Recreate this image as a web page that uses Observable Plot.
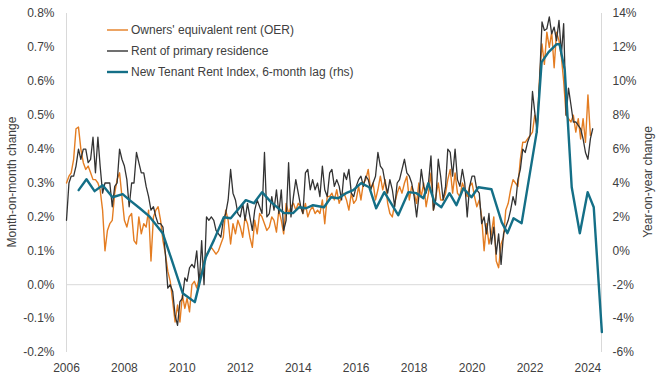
<!DOCTYPE html>
<html><head><meta charset="utf-8">
<script src="https://cdn.jsdelivr.net/npm/d3@7"></script>
<script src="https://cdn.jsdelivr.net/npm/@observablehq/plot@0.6"></script>
<style>
body{margin:0;background:#fff;font-family:"Liberation Sans",Arial,sans-serif;}
#wrap{position:relative;width:660px;height:379px;overflow:hidden;}
.ytitle{position:absolute;font-size:12px;color:#404040;white-space:nowrap;transform:translate(-50%,-50%) rotate(-90deg);}
#legend{position:absolute;left:107px;top:19px;font-size:12px;color:#404040;}
.item{display:flex;align-items:center;height:21px;}
.item svg{margin-right:3px;}
</style></head><body>
<div id="wrap"></div>
<script>
// Monthly series starting Jan 2006 (month-on-month % change)
const startYear = 2006;
const oer = [
 0.30,0.32,0.33,0.37,0.46,0.465,0.40,0.36,0.34,0.35,0.33,0.31,
 0.31,0.30,0.28,0.22,0.10,0.16,0.18,0.19,0.27,0.31,0.33,0.26,
 0.19,0.17,0.20,0.21,0.13,0.12,0.20,0.15,0.18,0.17,0.22,0.07,
 0.20,0.22,0.23,0.19,0.13,0.09,0.04,0.01,-0.05,-0.11,-0.06,-0.11,
 -0.03,-0.07,-0.04,-0.08,0.00,0.01,-0.01,0.02,0.04,0.07,0.09,0.10,
 0.11,0.10,0.09,0.10,0.12,0.14,0.22,0.19,0.12,0.18,0.15,0.19,
 0.17,0.14,0.20,0.18,0.14,0.11,0.19,0.15,0.21,0.20,0.18,0.16,
 0.17,0.20,0.19,0.155,0.22,0.19,0.15,0.24,0.21,0.23,0.24,0.22,
 0.24,0.23,0.21,0.24,0.20,0.22,0.23,0.21,0.22,0.21,0.25,0.18,
 0.26,0.26,0.27,0.25,0.28,0.24,0.26,0.27,0.25,0.22,0.27,0.24,
 0.25,0.29,0.25,0.30,0.31,0.34,0.28,0.30,0.25,0.28,0.32,0.28,
 0.31,0.24,0.21,0.20,0.24,0.27,0.29,0.27,0.30,0.32,0.25,0.29,
 0.27,0.24,0.30,0.26,0.30,0.23,0.27,0.33,0.22,0.26,0.30,0.25,
 0.25,0.27,0.31,0.34,0.27,0.33,0.27,0.26,0.30,0.28,0.26,0.29,
 0.30,0.26,0.23,0.25,0.20,0.10,0.18,0.12,0.15,0.20,0.07,0.05,
 0.12,0.14,0.22,0.24,0.28,0.31,0.30,0.29,0.37,0.42,0.42,0.43,
 0.44,0.45,0.50,0.47,0.61,0.71,0.65,0.745,0.70,0.745,0.64,0.745,
 0.72,0.67,0.60,0.50,0.49,0.48,0.50,0.45,0.49,0.43,0.49,0.42,
 0.56,0.44
];
const rent = [
 0.19,0.30,0.32,0.32,0.35,0.40,0.37,0.40,0.40,0.36,0.37,0.435,
 0.33,0.435,0.35,0.27,0.30,0.30,0.30,0.23,0.29,0.30,0.40,0.37,
 0.35,0.31,0.23,0.30,0.30,0.39,0.36,0.33,0.33,0.29,0.26,0.22,
 0.23,0.20,0.18,0.18,0.17,0.09,-0.01,0.00,-0.02,-0.09,-0.12,-0.05,
 -0.04,0.02,0.01,0.05,0.06,0.05,0.10,0.00,0.13,0.00,0.20,0.19,
 0.20,0.19,0.16,0.15,0.14,0.19,0.21,0.25,0.34,0.27,0.25,0.21,
 0.20,0.24,0.19,0.24,0.20,0.16,0.22,0.25,0.23,0.21,0.39,0.20,
 0.21,0.26,0.22,0.28,0.21,0.28,0.16,0.19,0.36,0.20,0.26,0.31,
 0.27,0.23,0.21,0.33,0.34,0.28,0.31,0.28,0.30,0.26,0.35,0.28,
 0.26,0.33,0.34,0.29,0.31,0.29,0.25,0.33,0.31,0.34,0.27,0.26,
 0.29,0.31,0.32,0.29,0.32,0.31,0.28,0.30,0.32,0.39,0.35,0.34,
 0.30,0.27,0.31,0.28,0.23,0.30,0.31,0.34,0.37,0.33,0.32,0.30,
 0.26,0.20,0.26,0.34,0.29,0.27,0.30,0.38,0.22,0.25,0.37,0.32,
 0.25,0.29,0.40,0.39,0.32,0.40,0.31,0.29,0.34,0.30,0.20,0.29,
 0.32,0.32,0.28,0.27,0.18,0.20,0.15,0.21,0.12,0.17,0.09,0.15,
 0.06,0.15,0.17,0.19,0.22,0.26,0.235,0.31,0.34,0.40,0.39,0.42,
 0.44,0.57,0.51,0.45,0.60,0.775,0.75,0.755,0.79,0.74,0.76,0.72,
 0.78,0.68,0.77,0.50,0.58,0.53,0.48,0.48,0.47,0.46,0.43,0.39,
 0.37,0.43,0.46
];
// New Tenant Rent Index, 6-month lag (year-on-year %, right axis)
const ntriYears = [
 2006.42,2006.69,2006.97,2007.25,2007.59,2007.94,2008.18,2008.53,2008.85,2009.32,
 2009.60,2010.01,2010.43,2010.81,2011.09,2011.43,2011.67,2012.19,2012.47,2012.75,
 2013.06,2013.51,2013.82,2014.03,2014.27,2014.51,2014.89,2015.13,2015.38,2015.65,
 2015.90,2016.17,2016.45,2016.69,2016.97,2017.45,2017.80,2018.08,2018.32,2018.49,
 2018.70,2018.94,2019.22,2019.46,2019.70,2019.98,2020.22,2020.67,2021.02,2021.22,
 2021.43,2021.71,2022.23,2022.40,2022.64,2022.92,2023.02,2023.20,2023.44,2023.72,
 2023.99,2024.20,2024.48
];
const ntriValues = [
 3.58,4.22,3.52,3.87,3.16,3.34,2.99,2.51,2.05,1.04,
 -0.38,-2.50,-3.03,-0.38,0.63,1.98,1.92,2.99,2.81,3.46,
 2.87,2.22,2.22,2.57,2.51,2.69,2.57,3.16,3.10,3.40,
 3.58,3.99,3.75,2.51,3.46,2.10,3.46,3.40,3.10,3.99,
 2.87,2.57,3.40,2.69,3.69,3.16,3.75,3.63,1.69,1.04,
 1.92,1.63,7.00,11.13,11.72,12.19,12.19,10.66,3.75,1.04,
 3.46,2.57,-4.80
];
const yTicks = [-0.2,-0.1,0,0.1,0.2,0.3,0.4,0.5,0.6,0.7,0.8];
const xTickYears = [2006,2008,2010,2012,2014,2016,2018,2020,2022,2024];
const seriesNames = ["Owners' equivalent rent (OER)","Rent of primary residence","New Tenant Rent Index, 6-month lag (rhs)"];
const colors = ["#E47D22","#333333","#146F87"];

const monthDate = m => new Date(Date.UTC(startYear, m, 1));
const decDate = y => { const f = Math.floor(y); const a = Date.UTC(f,0,1), b = Date.UTC(f+1,0,1); return new Date(a + (y-f)*(b-a)); };
// right axis (YoY %) mapped onto left axis (MoM %): rhs = 20*lhs - 2
const toLeft = r => (r + 2) / 20;

const oerData = oer.map((v,i)=>({date:monthDate(i), v}));
const rentData = rent.map((v,i)=>({date:monthDate(i), v}));
const ntriData = ntriYears.map((y,i)=>({date:decDate(y), v:toLeft(ntriValues[i])}));
const xDomain = [new Date(Date.UTC(2006,0,1)), new Date(Date.UTC(2024,5,20))];

const chart = Plot.plot({
  width: 660, height: 379,
  marginLeft: 66, marginRight: 59, marginTop: 13, marginBottom: 27,
  style: {fontSize: "12px", fontFamily: "'Liberation Sans', Arial, sans-serif", color: "#404040", background: "#fff"},
  x: {type: "utc", domain: xDomain},
  y: {domain: [-0.2, 0.8]},
  marks: [
    Plot.ruleX([xDomain[0], xDomain[1]], {stroke: "#d9d9d9", strokeWidth: 1}),
    Plot.ruleY([0], {stroke: "#d9d9d9", strokeWidth: 1}),
    Plot.lineY(oerData, {x: "date", y: "v", stroke: colors[0], strokeWidth: 1.4}),
    Plot.lineY(rentData, {x: "date", y: "v", stroke: colors[1], strokeWidth: 1.3}),
    Plot.lineY(ntriData, {x: "date", y: "v", stroke: colors[2], strokeWidth: 2.4}),
    Plot.axisY({ticks: yTicks, tickFormat: v => (Math.round(v*10)/10).toFixed(1) + "%", tickSize: 0, tickPadding: 12, label: null}),
    Plot.axisY({anchor: "right", ticks: yTicks, tickFormat: v => Math.round(v*20 - 2) + "%", tickSize: 0, tickPadding: 11, label: null}),
    Plot.axisX({ticks: xTickYears.map(y => new Date(Date.UTC(y,0,1))), tickFormat: d3.utcFormat("%Y"), tickSize: 0, tickPadding: 11, label: null})
  ]
});
const wrap = document.getElementById("wrap");
wrap.appendChild(chart);

const lt = document.createElement("div"); lt.className = "ytitle"; lt.textContent = "Month-on-month change";
lt.style.left = "12px"; lt.style.top = "182px"; wrap.appendChild(lt);
const rt = document.createElement("div"); rt.className = "ytitle"; rt.textContent = "Year-on-year change";
rt.style.left = "648px"; rt.style.top = "182px"; wrap.appendChild(rt);

const leg = document.createElement("div"); leg.id = "legend";
seriesNames.forEach((n,i)=>{
  const it = document.createElement("div"); it.className = "item";
  it.innerHTML = `<svg width="21" height="6"><line x1="0" y1="3" x2="21" y2="3" stroke="${colors[i]}" stroke-width="${i===2?2.4:1.4}"/></svg><span>${n}</span>`;
  leg.appendChild(it);
});
wrap.appendChild(leg);
</script>
</body></html>
